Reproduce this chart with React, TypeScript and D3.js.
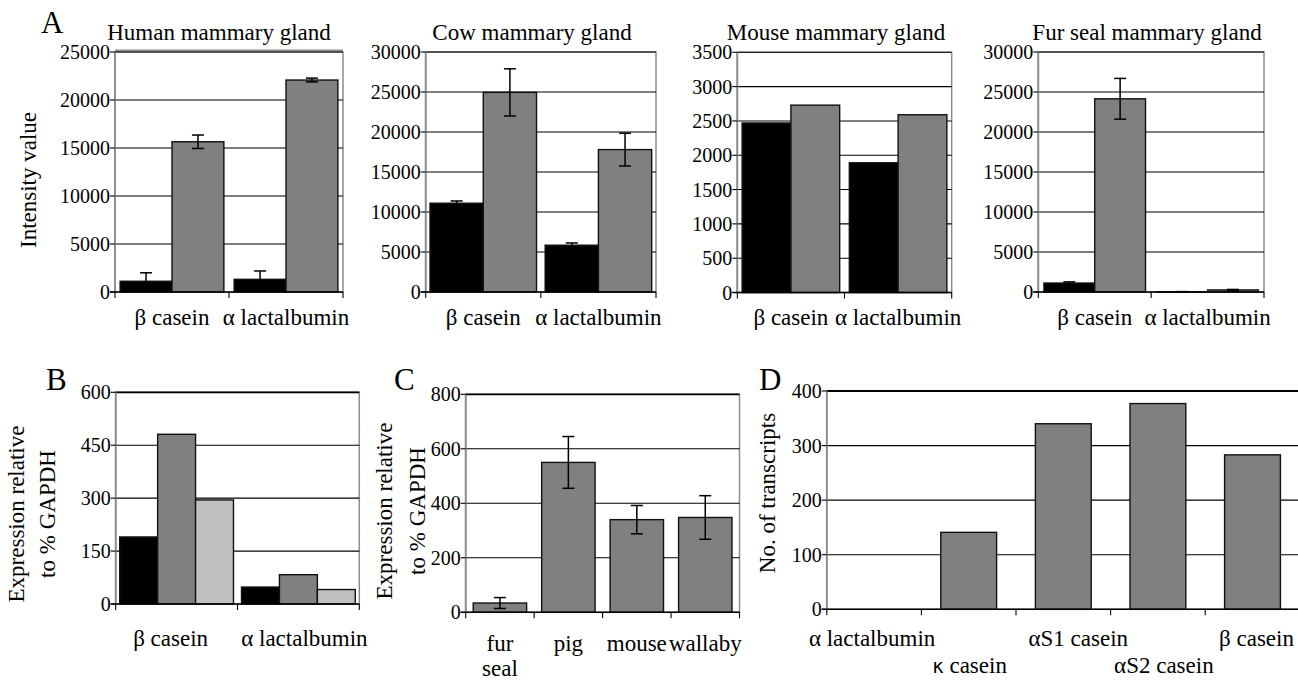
import React from "react";
import * as d3 from "d3";

const SERIF = "'Liberation Serif'";

// ---------- Panel A data ----------
const aCategories = ["β casein", "α lactalbumin"];
const humanBlack = [1120, 1320];
const humanBlackErr = [880, 870];
const humanGray = [15650, 22080];
const humanGrayErr = [700, 200];
const humanTicks = [0, 5000, 10000, 15000, 20000, 25000];

const cowBlack = [11100, 5850];
const cowBlackErr = [280, 280];
const cowGray = [24950, 17800];
const cowGrayErr = [2950, 2050];
const cowTicks = [0, 5000, 10000, 15000, 20000, 25000, 30000];

const mouseBlack = [2470, 1890];
const mouseGray = [2730, 2590];
const mouseTicks = [0, 500, 1000, 1500, 2000, 2500, 3000, 3500];

const sealBlack = [1120, 30];
const sealBlackErr = [150, 20];
const sealGray = [24150, 260];
const sealGrayErr = [2550, 60];
const sealTicks = [0, 5000, 10000, 15000, 20000, 25000, 30000];

// ---------- Panel B data ----------
const bCategories = ["β casein", "α lactalbumin"];
const bBlack = [190, 48];
const bGray = [481, 83];
const bLight = [295, 41];
const bTicks = [0, 150, 300, 450, 600];

// ---------- Panel C data ----------
const cCategories = [["fur", "seal"], ["pig"], ["mouse"], ["wallaby"]];
const cValues = [34, 550, 340, 348];
const cErr = [20, 95, 52, 80];
const cTicks = [0, 200, 400, 600, 800];

// ---------- Panel D data ----------
const dCategories = ["α lactalbumin", "κ casein", "αS1 casein", "αS2 casein", "β casein"];
const dValues = [0, 141, 340, 377, 283];
const dTicks = [0, 100, 200, 300, 400];

type Series = { values: number[]; errs?: number[]; color: string };
type Cfg = {
  x0: number; x1: number; y0: number; y1: number;
  ticks: number[];
  cats: (string | string[])[];
  series: Series[];
  gap: number;
  title?: string; titleX?: number; titleY?: number;
  letter: string; letterX: number; letterY: number;
  ylabel: string[]; ylabelX: number[]; ylabelY: number;
  labelY: number[];
  labelRow?: number[];
  labelDx?: number[];
  topStroke?: number;
  grayTop?: boolean;
};

const txt = (size: number): React.CSSProperties => ({ fontFamily: SERIF, fontSize: size + "px" });

function renderLabel(c: string) {
  if (c.startsWith("κ")) {
    return (
      <>
        <tspan style={{ fontFamily: "'DejaVu Sans'", fontSize: "19px" }}>κ</tspan>
        <tspan>{c.slice(1)}</tspan>
      </>
    );
  }
  return c;
}

function Panel({ cfg }: { cfg: Cfg }) {
  const max = cfg.ticks[cfg.ticks.length - 1];
  const y = d3.scaleLinear().domain([0, max]).range([cfg.y1, cfg.y0]);
  const xb = d3
    .scaleBand<number>()
    .domain(d3.range(cfg.cats.length))
    .range([cfg.x0, cfg.x1])
    .paddingInner(0)
    .paddingOuter(0);
  const bw = xb.bandwidth();
  const inner = d3
    .scaleBand<number>()
    .domain(d3.range(cfg.series.length))
    .range([(bw * cfg.gap) / 2, bw * (1 - cfg.gap / 2)])
    .padding(0);
  const iw = inner.bandwidth();
  const boundaries = d3.range(cfg.cats.length + 1).map((i) => cfg.x0 + i * bw);

  return (
    <g>
      <rect x={cfg.x0} y={cfg.y0} width={cfg.x1 - cfg.x0} height={cfg.y1 - cfg.y0}
        fill="none" stroke="#8c8c8c" strokeWidth={1.5} />
      {cfg.grayTop ? (
        <line x1={cfg.x0} x2={cfg.x1} y1={cfg.y0 - 1.5} y2={cfg.y0 - 1.5} stroke="#8c8c8c" strokeWidth={2} />
      ) : null}
      {cfg.ticks.filter((t) => t > 0).map((t) => (
        <line key={"g" + t} x1={cfg.x0} x2={cfg.x1} y1={y(t)} y2={y(t)}
          stroke="#000" strokeWidth={t === max && cfg.topStroke ? cfg.topStroke : 1.1} />
      ))}
      {cfg.series.map((s, si) =>
        s.values.map((v, ci) => {
          const bx = (xb(ci) as number) + (inner(si) as number);
          return (
            <rect key={`b${si}-${ci}`} x={bx} y={y(v)} width={iw}
              height={Math.max(0, cfg.y1 - y(v))} fill={s.color}
              stroke="#111" strokeWidth={1.4} />
          );
        })
      )}
      {cfg.series.map((s, si) =>
        s.errs
          ? s.values.map((v, ci) => {
              const cx = (xb(ci) as number) + (inner(si) as number) + iw / 2;
              const e = s.errs![ci];
              const yt = y(v + e);
              const ybm = y(Math.max(0, v - e));
              return (
                <g key={`e${si}-${ci}`} stroke="#000" strokeWidth={1.5}>
                  <line x1={cx} x2={cx} y1={yt} y2={ybm} />
                  <line x1={cx - 6} x2={cx + 6} y1={yt} y2={yt} />
                  <line x1={cx - 6} x2={cx + 6} y1={ybm} y2={ybm} />
                </g>
              );
            })
          : null
      )}
      <line x1={cfg.x0} x2={cfg.x0} y1={cfg.y0} y2={cfg.y1} stroke="#8c8c8c" strokeWidth={1.8} />
      {cfg.ticks.map((t) => (
        <g key={"t" + t}>
          <line x1={cfg.x0 - 5} x2={cfg.x0} y1={y(t)} y2={y(t)} stroke="#000" strokeWidth={1.1} />
          <text x={cfg.x0 - 5} y={y(t) + 7} textAnchor="end" style={txt(20)}>
            {t}
          </text>
        </g>
      ))}
      <line x1={cfg.x0 - 5} x2={cfg.x1} y1={cfg.y1} y2={cfg.y1} stroke="#000" strokeWidth={1.5} />
      {boundaries.map((bx, i) => (
        <line key={"bt" + i} x1={bx} x2={bx} y1={cfg.y1} y2={cfg.y1 + 6} stroke="#000" strokeWidth={1.1} />
      ))}
      {cfg.cats.map((c, ci) => {
        const cx = (xb(ci) as number) + bw / 2 + (cfg.labelDx ? cfg.labelDx[ci] : 0);
        const lines = Array.isArray(c) ? c : [c];
        const row = cfg.labelRow ? cfg.labelRow[ci] : 0;
        return lines.map((ln, li) => (
          <text key={`l${ci}-${li}`} x={cx} y={cfg.labelY[row + li]} textAnchor="middle" style={txt(23)}>
            {renderLabel(ln)}
          </text>
        ));
      })}
      {cfg.title ? (
        <text x={cfg.titleX} y={cfg.titleY} textAnchor="middle" style={txt(23)}>
          {cfg.title}
        </text>
      ) : null}
      {cfg.ylabel.map((ln, i) => (
        <text key={"yl" + i} transform={`translate(${cfg.ylabelX[i]},${cfg.ylabelY}) rotate(-90)`}
          textAnchor="middle" style={txt(23)}>
          {ln}
        </text>
      ))}
      {cfg.letter ? (
        <text x={cfg.letterX} y={cfg.letterY} style={txt(31)}>
          {cfg.letter}
        </text>
      ) : null}
    </g>
  );
}

const BLACK = "#000000";
const GRAY = "#808080";
const LIGHT = "#c0c0c0";

const panels: Cfg[] = [
  {
    x0: 115, x1: 343, y0: 52, y1: 292, ticks: humanTicks, cats: aCategories,
    series: [
      { values: humanBlack, errs: humanBlackErr, color: BLACK },
      { values: humanGray, errs: humanGrayErr, color: GRAY },
    ],
    gap: 0.09, title: "Human mammary gland", titleX: 219, titleY: 39.5,
    letter: "A", letterX: 41, letterY: 33,
    ylabel: ["Intensity value"], ylabelX: [36], ylabelY: 180, labelY: [325],
    grayTop: true,
  },
  {
    x0: 425.7, x1: 656, y0: 52, y1: 292, ticks: cowTicks, cats: aCategories,
    series: [
      { values: cowBlack, errs: cowBlackErr, color: BLACK },
      { values: cowGray, errs: cowGrayErr, color: GRAY },
    ],
    gap: 0.075, title: "Cow mammary gland", titleX: 532, titleY: 39.5,
    letter: "", letterX: 0, letterY: 0, ylabel: [], ylabelX: [], ylabelY: 0, labelY: [325],
  },
  {
    x0: 737.3, x1: 951.7, y0: 52.3, y1: 292.5, ticks: mouseTicks, cats: aCategories,
    series: [
      { values: mouseBlack, color: BLACK },
      { values: mouseGray, color: GRAY },
    ],
    gap: 0.09, title: "Mouse mammary gland", titleX: 836, titleY: 39.5,
    letter: "", letterX: 0, letterY: 0, ylabel: [], ylabelX: [], ylabelY: 0, labelY: [325],
  },
  {
    x0: 1038.3, x1: 1264, y0: 52, y1: 292, ticks: sealTicks, cats: aCategories,
    series: [
      { values: sealBlack, errs: sealBlackErr, color: BLACK },
      { values: sealGray, errs: sealGrayErr, color: GRAY },
    ],
    gap: 0.1, title: "Fur seal mammary gland", titleX: 1147, titleY: 39.5,
    letter: "", letterX: 0, letterY: 0, ylabel: [], ylabelX: [], ylabelY: 0, labelY: [325],
  },
  {
    x0: 115.7, x1: 359.3, y0: 392.3, y1: 604, ticks: bTicks, cats: bCategories,
    series: [
      { values: bBlack, color: BLACK },
      { values: bGray, color: GRAY },
      { values: bLight, color: LIGHT },
    ],
    gap: 0.066, letter: "B", letterX: 46, letterY: 390,
    ylabel: ["Expression relative", "to % GAPDH"], ylabelX: [24, 55], ylabelY: 514,
    labelY: [646], labelDx: [-6, 6], topStroke: 1.8,
  },
  {
    x0: 465.7, x1: 739.5, y0: 394.3, y1: 612.3, ticks: cTicks, cats: cCategories,
    series: [{ values: cValues, errs: cErr, color: GRAY }],
    gap: 0.22, letter: "C", letterX: 394, letterY: 390,
    ylabel: ["Expression relative", "to % GAPDH"], ylabelX: [392, 425], ylabelY: 511,
    labelY: [651, 676], topStroke: 1.8,
  },
  {
    x0: 826.8, x1: 1299.8, y0: 391, y1: 609.3, ticks: dTicks, cats: dCategories,
    series: [{ values: dValues, color: GRAY }],
    gap: 0.41, letter: "D", letterX: 759, letterY: 390,
    ylabel: ["No. of transcripts"], ylabelX: [775], ylabelY: 493,
    labelY: [646, 673], labelRow: [0, 1, 0, 1, 0], labelDx: [-2, 1, 15, 6, 4],
    topStroke: 2.2,
  },
];

export default function App() {
  return (
    <svg width={1298} height={681} viewBox="0 0 1298 681"
      style={{ position: "absolute", left: 0, top: 0, background: "#fff" }}>
      <rect x={0} y={0} width={1298} height={681} fill="#fff" />
      {panels.map((p, i) => (
        <Panel key={i} cfg={p} />
      ))}
    </svg>
  );
}
